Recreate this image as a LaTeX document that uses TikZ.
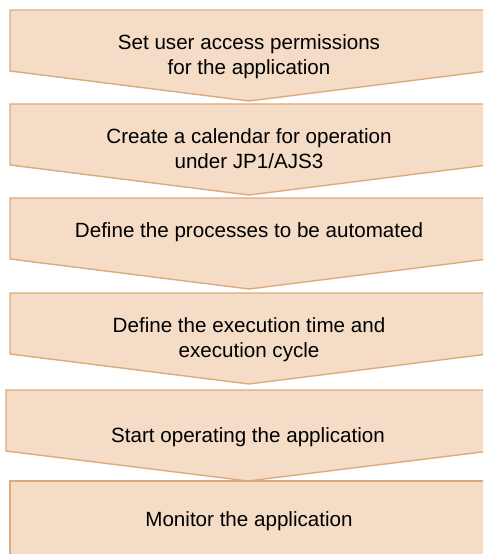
\documentclass[tikz,border=0pt]{standalone}
\usepackage{fontspec}
\setmainfont{Liberation Sans}
\definecolor{stepfill}{RGB}{244,220,198}
\definecolor{stepline}{RGB}{221,170,125}
\begin{document}
\begin{tikzpicture}[x=1pt,y=-1pt,
  chev/.style={fill=stepfill,draw=stepline,line width=1.4pt,line join=miter},
  lbl/.style={anchor=base,align=center,inner sep=0pt,font=\fontsize{20.6}{25}\selectfont,text=black}]
\useasboundingbox (0,0) rectangle (483,554);
\clip (0,0) rectangle (483,554);
% step shapes
\newcommand{\chevshape}[4]{% left, top, tipx, right
  \draw[chev] (#1,#2) -- (#4,#2) -- (#4,#2+61) -- (#3,#2+91) -- (#1,#2+61) -- cycle;}
\chevshape{10}{10}{249}{488}
\chevshape{10}{104}{249}{488}
\chevshape{10}{198}{249}{488}
\chevshape{10}{293}{249}{488}
\chevshape{6}{390}{248}{490}
\draw[chev] (10,600) -- (10,481) -- (500,481) -- (500,600);
% labels (base = baseline of the last line)
\node[lbl] (t1) at (249,74) {Set user access permissions\\for the application};
\node[lbl] (t2) at (249,168) {Create a calendar for operation\\under JP1/AJS3};
\node[lbl] (t3) at (249,237) {Define the processes to be automated};
\node[lbl] (t4) at (249,357) {Define the execution time and\\execution cycle};
\node[lbl] (t5) at (248,442) {Start operating the application};
\node[lbl] (t6) at (249,526) {Monitor the application};
\end{tikzpicture}
\end{document}
